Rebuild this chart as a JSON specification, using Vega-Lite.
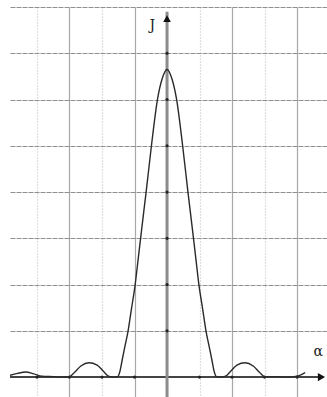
{
  "$schema": "https://vega.github.io/schema/vega-lite/v6.json",
  "width": 327,
  "height": 397,
  "autosize": {"type": "fit", "contains": "padding"},
  "padding": {"left": 10, "top": 7, "right": 0, "bottom": 0},
  "background": "white",
  "config": {"view": {"stroke": null}},
  "datasets": {
    "curve": [
      {"a": -4.83, "J": 0.04}, {"a": -4.6, "J": 0.08}, {"a": -4.35, "J": 0.11}, {"a": -4.1, "J": 0.07},
      {"a": -3.85, "J": 0.02}, {"a": -3.5, "J": 0.01}, {"a": -3.2, "J": 0.0}, {"a": -3.0, "J": 0.01},
      {"a": -2.85, "J": 0.1}, {"a": -2.65, "J": 0.24}, {"a": -2.4, "J": 0.31}, {"a": -2.15, "J": 0.26},
      {"a": -1.95, "J": 0.12}, {"a": -1.8, "J": 0.02}, {"a": -1.65, "J": 0.0}, {"a": -1.52, "J": 0.01},
      {"a": -1.45, "J": 0.12}, {"a": -1.38, "J": 0.37}, {"a": -1.3, "J": 0.65}, {"a": -1.2, "J": 0.99},
      {"a": -1.1, "J": 1.45}, {"a": -0.98, "J": 2.0}, {"a": -0.88, "J": 2.6}, {"a": -0.78, "J": 3.2},
      {"a": -0.64, "J": 4.02}, {"a": -0.48, "J": 5.0}, {"a": -0.29, "J": 6.02}, {"a": -0.15, "J": 6.45},
      {"a": 0, "J": 6.65},
      {"a": 0.15, "J": 6.45}, {"a": 0.29, "J": 6.02}, {"a": 0.48, "J": 5.0}, {"a": 0.64, "J": 4.02},
      {"a": 0.78, "J": 3.2}, {"a": 0.88, "J": 2.6}, {"a": 0.98, "J": 2.0}, {"a": 1.1, "J": 1.45},
      {"a": 1.2, "J": 0.99}, {"a": 1.3, "J": 0.65}, {"a": 1.38, "J": 0.37}, {"a": 1.45, "J": 0.12},
      {"a": 1.52, "J": 0.01}, {"a": 1.65, "J": 0.0}, {"a": 1.8, "J": 0.02}, {"a": 1.95, "J": 0.12},
      {"a": 2.15, "J": 0.26}, {"a": 2.4, "J": 0.31}, {"a": 2.65, "J": 0.24}, {"a": 2.85, "J": 0.1},
      {"a": 3.0, "J": 0.01}, {"a": 3.3, "J": 0.01}, {"a": 3.7, "J": 0.0}, {"a": 4.0, "J": 0.02},
      {"a": 4.15, "J": 0.06}, {"a": 4.25, "J": 0.1}
    ],
    "dots": [
      {"a": 0, "J": 1}, {"a": 0, "J": 2}, {"a": 0, "J": 3}, {"a": 0, "J": 4}, {"a": 0, "J": 5},
      {"a": 0, "J": 6}, {"a": 0, "J": 7},
      {"a": -4, "J": 0}, {"a": -3, "J": 0}, {"a": -2, "J": 0}, {"a": -1, "J": 0},
      {"a": 1, "J": 0}, {"a": 2, "J": 0}, {"a": 3, "J": 0}, {"a": 4, "J": 0}
    ],
    "labels": [
      {"a": -0.45, "J": 7.6, "t": "J"},
      {"a": 4.65, "J": 0.55, "t": "α"}
    ]
  },
  "encoding": {
    "x": {"field": "a", "type": "quantitative", "scale": {"domain": [-4.83, 4.92], "nice": false, "zero": false},
      "axis": {"title": null, "labels": false, "ticks": false, "domain": false, "values": [-4, -3, -2, -1, 1, 2, 3, 4],
        "gridColor": {"condition": {"test": "datum.value == -4 || datum.value == -2 || datum.value == 1 || datum.value == 3", "value": "#bdbdbd"}, "value": "#a8a8a8"},
        "gridDash": {"condition": {"test": "datum.value == -4 || datum.value == -2 || datum.value == 1 || datum.value == 3", "value": [1, 2]}, "value": []},
        "gridWidth": 1.2}},
    "y": {"field": "J", "type": "quantitative", "scale": {"domain": [-0.43, 8], "nice": false, "zero": false},
      "axis": {"title": null, "labels": false, "ticks": false, "domain": false, "values": [1, 2, 3, 4, 5, 6, 7, 8],
        "gridColor": "#8f8f8f", "gridDash": [5, 1], "gridWidth": 1.2}}
  },
  "layer": [
    {
      "data": {"values": [{"a": -4.83, "J": 0}, {"a": 4.8, "J": 0}]},
      "mark": {"type": "line", "color": "#444", "strokeWidth": 2, "clip": true}
    },
    {
      "data": {"values": [{"a": 0, "J": -0.43}, {"a": 0, "J": 7.9}]},
      "mark": {"type": "line", "color": "#8c8c8c", "strokeWidth": 3, "clip": true}
    },
    {
      "data": {"name": "dots"},
      "mark": {"type": "point", "filled": true, "size": 10, "color": "#222", "opacity": 1}
    },
    {
      "data": {"values": [{"a": 0, "J": 7.75}]},
      "mark": {"type": "point", "shape": "triangle-up", "filled": true, "size": 60, "color": "#111", "opacity": 1}
    },
    {
      "data": {"values": [{"a": 4.75, "J": 0}]},
      "mark": {"type": "point", "shape": "triangle-right", "filled": true, "size": 70, "color": "#111", "opacity": 1}
    },
    {
      "data": {"name": "curve"},
      "mark": {"type": "line", "color": "#2a2a2a", "strokeWidth": 1.4, "interpolate": "monotone", "clip": true}
    },
    {
      "data": {"name": "labels"},
      "mark": {"type": "text", "font": "DejaVu Serif", "fontSize": 14, "color": "#222"},
      "encoding": {"text": {"field": "t"}}
    }
  ]
}
